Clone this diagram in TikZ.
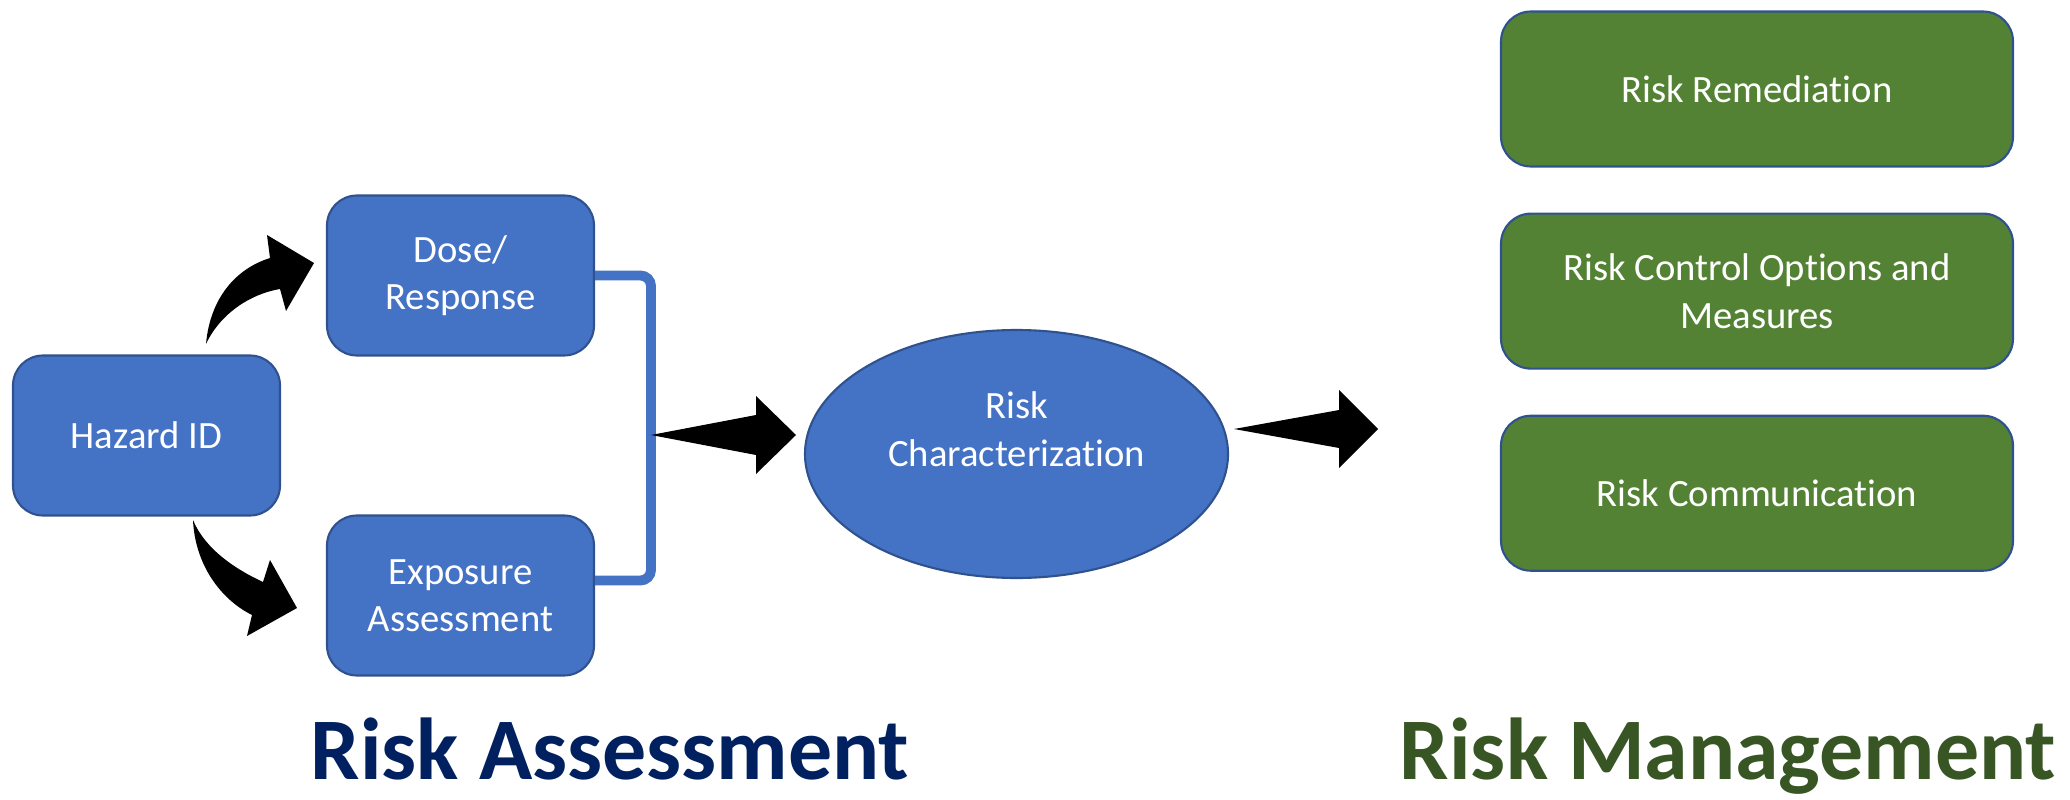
\documentclass[tikz,border=0pt]{standalone}
\usepackage{fontspec}
\setmainfont{Carlito}[Ligatures=NoCommon]
\usepackage{xcolor}
\usepackage{tikz}
\usetikzlibrary{shapes.geometric,positioning,calc}

\definecolor{boxblue}{HTML}{4472C4}
\definecolor{boxedge}{HTML}{2F528F}
\definecolor{boxgreen}{HTML}{548235}
\definecolor{navytitle}{HTML}{002060}
\definecolor{greentitle}{HTML}{375623}

\begin{document}
\begin{tikzpicture}[
  bluebox/.style={draw=boxedge, line width=0.6pt, fill=boxblue, rounded corners=0.3cm,
    minimum width=2.67cm, minimum height=1.6cm, text=white, align=center,
    font=\fontsize{11}{13.5}\selectfont},
  greenbox/.style={bluebox, fill=boxgreen, minimum width=5.12cm, minimum height=1.55cm},
  charell/.style={ellipse, draw=boxedge, line width=0.6pt, fill=boxblue,
    minimum width=4.23cm, minimum height=2.48cm, inner sep=0pt},
  boxtext/.style={text=white, align=center, font=\fontsize{11}{13.5}\selectfont},
  bracketline/.style={draw=boxblue, line width=2.8pt, rounded corners=3pt},
  blockarrow/.style={fill=black},
  heading/.style={anchor=base, font=\fontsize{25}{30}\selectfont\bfseries}
]
\useasboundingbox (0,0) rectangle (20.7,7.99);

% Risk assessment side
\node[bluebox] (hz) at (1.465,3.635) {Hazard ID};
\node[bluebox] (dr) at (4.605,5.235) {Dose/\\Response};
\node[bluebox] (ea) at (4.605,2.035) {Exposure\\Assessment};

\node[charell] (rc) at (10.165,3.45) {};
\node[boxtext] (rctext) at ([yshift=0.25cm]rc.center) {Risk\\Characterization};

% curved arrows out of hazard ID
\fill[blockarrow] (2.06,4.55) .. controls (2.10,5.00) and (2.35,5.30) .. (2.70,5.41)
  -- (2.67,5.64) -- (3.14,5.36) -- (2.86,4.88) -- (2.80,5.10)
  .. controls (2.50,5.05) and (2.20,4.85) .. (2.06,4.55) -- cycle;
\fill[blockarrow] (1.93,2.79) .. controls (1.95,2.35) and (2.20,2.00) .. (2.52,1.84)
  -- (2.47,1.63) -- (2.97,1.91) -- (2.70,2.39) -- (2.63,2.17)
  .. controls (2.35,2.30) and (2.05,2.50) .. (1.93,2.79) -- cycle;

% bracket joining dose/response and exposure
\coordinate (bk) at (6.51,3.64);
\draw[bracketline] (dr.east) -- (dr.east -| bk) -- ([yshift=1.5mm]ea.east -| bk)
  -- ([yshift=1.5mm]ea.east);

% block arrows
\fill[blockarrow] (bk) -- ++(1.05,0.20) -- ++(0,0.19) -- ++(0.40,-0.39)
  -- ++(-0.40,-0.39) -- ++(0,0.19) -- cycle;
\coordinate (rcout) at ($(rc.east)+(0.05,0.25)$);
\fill[blockarrow] (rcout) -- ++(1.05,0.19) -- ++(0,0.20) -- ++(0.39,-0.39)
  -- ++(-0.39,-0.39) -- ++(0,0.20) -- cycle;

% Risk management side
\node[greenbox] (rr) at (17.57,7.10) {Risk Remediation};
\node[greenbox, below=0.45cm of rr] (rco) {Risk Control Options and\\Measures};
\node[greenbox, below=0.45cm of rco] (rcm) {Risk Communication};

% headings
\node[heading, text=navytitle] (ra) at (6.10,0.20) {Risk Assessment};
\node[heading, text=greentitle] (rm) at (17.28,0.20) {Risk Management};
\end{tikzpicture}
\end{document}
